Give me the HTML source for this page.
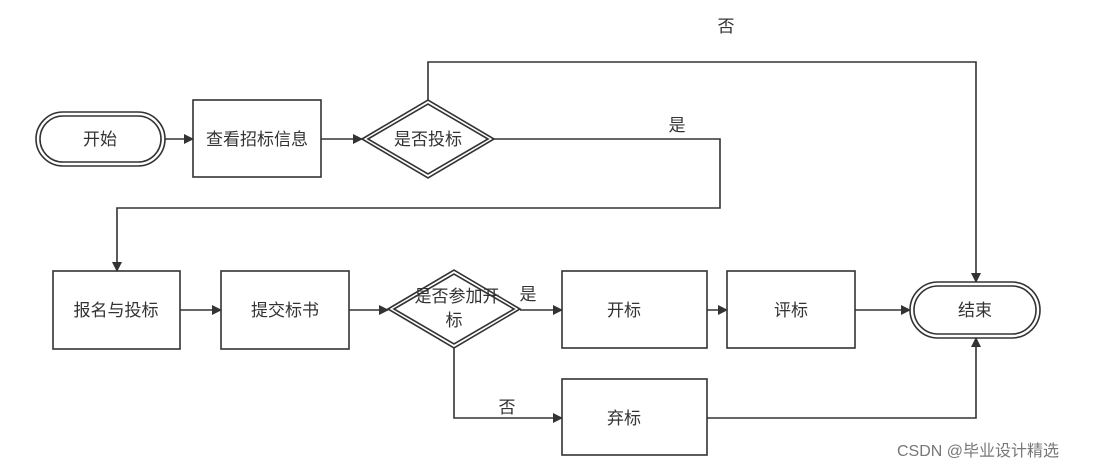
<!DOCTYPE html>
<html><head><meta charset="utf-8"><style>
body{margin:0;background:#fff}
text{font-family:"Liberation Sans","Noto Sans CJK SC",sans-serif;fill:#333}
</style></head><body>
<svg width="1104" height="468" viewBox="0 0 1104 468" xmlns="http://www.w3.org/2000/svg">
<defs><marker id="a" markerWidth="10" markerHeight="10" refX="9" refY="5" orient="auto" markerUnits="userSpaceOnUse"><path d="M0,0 L10,5 L0,10z" fill="#333"/></marker></defs>
<g fill="none" stroke="#333" stroke-width="1.6">
<rect x="36" y="112" width="129" height="54" rx="27"/><rect x="40" y="116" width="121" height="46" rx="23"/>
<rect x="193" y="100" width="128" height="77"/>
<path d="M362,139 L428,100 L494,139 L428,178Z"/><path d="M368,139 L428,104 L488,139 L428,174Z"/>
<rect x="53" y="271" width="127" height="78"/>
<rect x="221" y="271" width="128" height="78"/>
<path d="M388,309 L454,270 L520,309 L454,348Z"/><path d="M394,309 L454,274 L514,309 L454,344Z"/>
<rect x="562" y="271" width="145" height="77"/>
<rect x="727" y="271" width="128" height="77"/>
<rect x="910" y="282" width="130" height="56" rx="28"/><rect x="914" y="286" width="122" height="48" rx="24"/>
<rect x="562" y="379" width="145" height="76"/>
<path d="M165,139 H193" marker-end="url(#a)"/>
<path d="M321,139 H362" marker-end="url(#a)"/>
<path d="M428,100 V62 H976 V282" marker-end="url(#a)"/>
<path d="M494,139 H720 V208 H117 V271" marker-end="url(#a)"/>
<path d="M180,310 H221" marker-end="url(#a)"/>
<path d="M349,310 H388" marker-end="url(#a)"/>
<path d="M520,310 H562" marker-end="url(#a)"/>
<path d="M707,310 H727" marker-end="url(#a)"/>
<path d="M855,310 H910" marker-end="url(#a)"/>
<path d="M454,348 V418 H562" marker-end="url(#a)"/>
<path d="M707,418 H976 V338" marker-end="url(#a)"/>
</g>
<g font-size="17" text-anchor="middle">
<text x="100" y="145">开始</text>
<text x="257" y="145">查看招标信息</text>
<text x="428" y="145">是否投标</text>
<text x="116" y="316">报名与投标</text>
<text x="285" y="316">提交标书</text>
<text x="457" y="302">是否参加开</text>
<text x="454" y="326">标</text>
<text x="624" y="316">开标</text>
<text x="791" y="316">评标</text>
<text x="975" y="316">结束</text>
<text x="624" y="424">弃标</text>
<text x="726" y="32">否</text>
<text x="677" y="131">是</text>
<text x="528" y="300">是</text>
<text x="507" y="413">否</text>
</g>
<text x="897" y="456" font-size="16" fill="#666" style="fill:#777">CSDN @毕业设计精选</text>
</svg>
</body></html>
